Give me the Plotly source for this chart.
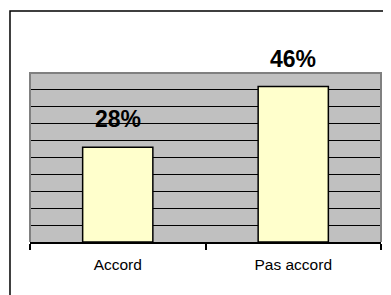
import plotly.graph_objects as go

categories = ["Accord", "Pas accord"]
values = [0.28, 0.46]
labels = ["28%", "46%"]

fig = go.Figure()
fig.add_trace(go.Bar(
    x=categories, y=values,
    marker=dict(color="#FFFFCC", line=dict(color="black", width=1.5)),
    hoverinfo="skip",
))

for c, v, t in zip(categories, values, labels):
    fig.add_annotation(x=c, y=v, text="<b>" + t + "</b>", showarrow=False, yanchor="middle",
                       yshift=28, font=dict(family="Liberation Sans", size=23, color="black"))

fig.update_layout(
    width=383, height=287,
    margin=dict(l=22, r=10, t=65, b=53),
    paper_bgcolor="white", plot_bgcolor="#C0C0C0",
    bargap=0.6, showlegend=False,
    font=dict(family="Liberation Sans", color="black"),
    shapes=[
        dict(type="path", xref="paper", yref="paper",
             path="M 0,0 L 0,1 L 1,1 L 1,0",
             line=dict(color="#808080", width=2)),
        dict(type="path", xref="paper", yref="paper",
             path="M -0.057,-0.6 L -0.057,1.367 L 1.2,1.367",
             line=dict(color="black", width=1.5)),
    ],
)
fig.update_xaxes(showline=True, linecolor="black", linewidth=2, ticks="outside",
                 tickson="boundaries", ticklen=6, tickcolor="black", tickwidth=1.5,
                 ticklabelstandoff=7,
                 tickfont=dict(size=15.5, family="Liberation Sans", color="black"),
                 showgrid=False, fixedrange=True)
fig.update_yaxes(range=[0, 0.5], dtick=0.05, showgrid=True, gridcolor="black", gridwidth=1,
                 showticklabels=False, zeroline=False, showline=False, fixedrange=True)

fig.write_html("out.html")
